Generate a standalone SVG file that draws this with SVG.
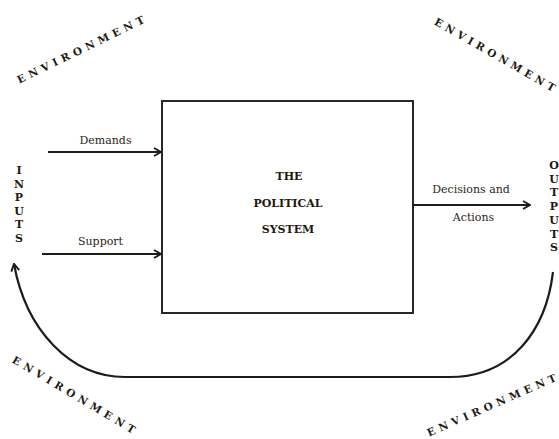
<svg xmlns="http://www.w3.org/2000/svg" width="559" height="439" viewBox="0 0 559 439">
  <defs>
    <marker id="chev" viewBox="0 0 10 10" refX="9" refY="5" markerWidth="10" markerHeight="10" markerUnits="userSpaceOnUse" orient="auto">
      <polyline points="2,1 9,5 2,9" fill="none" stroke="#1e1c17" stroke-width="1.9"/>
    </marker>
  </defs>
  <style>
    .bg { fill: #ffffff; }
    .box { fill: #ffffff; stroke: #2a2820; stroke-width: 2; }
    .line { fill: none; stroke: #1e1c17; stroke-width: 2.2; }
    .lbl { font-family: "DejaVu Serif", "Liberation Serif", serif; font-size: 11px; fill: #2a2518; text-anchor: middle; }
    .title { font-family: "DejaVu Serif", "Liberation Serif", serif; font-size: 11px; font-weight: bold; fill: #1e1a10; text-anchor: middle; }
    .vert { font-family: "DejaVu Serif", "Liberation Serif", serif; font-size: 11px; font-weight: bold; fill: #1e1a10; text-anchor: middle; }
    .env { font-family: "DejaVu Serif", "Liberation Serif", serif; font-size: 10.5px; font-weight: bold; fill: #1e1a10; text-anchor: middle; dominant-baseline: central; }
  </style>
  <rect class="bg" x="0" y="0" width="559" height="439"/>

  <!-- surrounding environment labels -->
  <g id="env-top-left">
    <text class="env" transform="translate(80.5,49.5) rotate(-26)" textLength="140" lengthAdjust="spacing">ENVIRONMENT</text>
  </g>
  <g id="env-top-right">
    <text class="env" transform="translate(495,54.5) rotate(29.7)" textLength="137" lengthAdjust="spacing">ENVIRONMENT</text>
  </g>
  <g id="env-bottom-left">
    <text class="env" transform="translate(74,394.5) rotate(30.7)" textLength="141" lengthAdjust="spacing">ENVIRONMENT</text>
  </g>
  <g id="env-bottom-right">
    <text class="env" transform="translate(491.5,405) rotate(-23.7)" textLength="140" lengthAdjust="spacing">ENVIRONMENT</text>
  </g>

  <!-- central system box -->
  <g id="political-system">
    <rect class="box" x="162" y="101" width="251" height="212"/>
    <text class="title" x="289" y="180">THE</text>
    <text class="title" x="288" y="207">POLITICAL</text>
    <text class="title" x="288" y="233">SYSTEM</text>
  </g>

  <!-- inputs column -->
  <g id="inputs">
    <text class="vert" x="19" y="174">I</text>
    <text class="vert" x="19" y="187.6">N</text>
    <text class="vert" x="19" y="201.2">P</text>
    <text class="vert" x="19" y="214.8">U</text>
    <text class="vert" x="19" y="228.4">T</text>
    <text class="vert" x="19" y="242">S</text>
  </g>

  <!-- outputs column -->
  <g id="outputs">
    <text class="vert" x="554" y="169">O</text>
    <text class="vert" x="554" y="182.7">U</text>
    <text class="vert" x="554" y="196.4">T</text>
    <text class="vert" x="554" y="210.1">P</text>
    <text class="vert" x="554" y="223.8">U</text>
    <text class="vert" x="554" y="237.5">T</text>
    <text class="vert" x="554" y="251.2">S</text>
  </g>

  <!-- flows -->
  <g id="connectors">
    <path class="line" d="M48,152 L161,152" marker-end="url(#chev)"/>
    <text class="lbl" x="105.5" y="144">Demands</text>

    <path class="line" d="M42,254 L161,254" marker-end="url(#chev)"/>
    <text class="lbl" x="100.5" y="245">Support</text>

    <path class="line" d="M413,205 L530,205" marker-end="url(#chev)"/>
    <text class="lbl" x="471" y="193">Decisions and</text>
    <text class="lbl" x="473.5" y="221">Actions</text>

    <path class="line" d="M553,272 C546,330 512,377 450,377 L125,377 C70,377 26,330 14,264" marker-end="url(#chev)"/>
  </g>
</svg>
